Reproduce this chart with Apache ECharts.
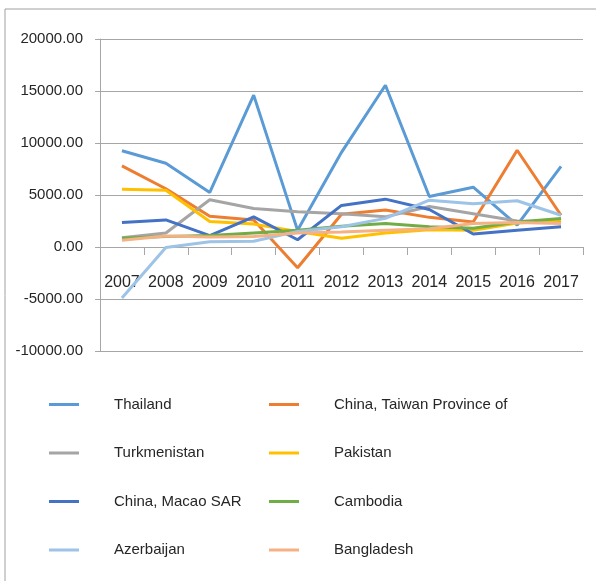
<!DOCTYPE html>
<html>
<head>
<meta charset="utf-8">
<script src="https://cdn.jsdelivr.net/npm/echarts@6/dist/echarts.min.js"></script>
<style>
  html, body { margin: 0; padding: 0; background: #fff; }
  #main { width: 596px; height: 581px; }
</style>
</head>
<body>
<div id="main"></div>
<script>
var years = ['2007', '2008', '2009', '2010', '2011', '2012', '2013', '2014', '2015', '2016', '2017'];

var thailand = [9250, 8050, 5250, 14600, 1600, 9100, 15550, 4850, 5750, 2100, 7750];
var taiwan = [7800, 5600, 2950, 2600, -2000, 3150, 3550, 2850, 2400, 9300, 3050];
var turkmenistan = [900, 1350, 4550, 3700, 3400, 3200, 2900, 3900, 3200, 2500, 2400];
var pakistan = [5550, 5450, 2450, 2200, 1500, 850, 1350, 1650, 1600, 2300, 2600];
var macao = [2350, 2600, 1100, 2900, 700, 4000, 4600, 3600, 1250, 1600, 1950];
var cambodia = [850, 1000, 1100, 1350, 1600, 2000, 2250, 1950, 1800, 2400, 2750];
var azerbaijan = [-4900, -50, 500, 550, 1500, 1950, 2750, 4500, 4150, 4450, 3050];
var bangladesh = [650, 1050, 950, 1000, 1350, 1450, 1600, 1750, 2250, 2350, 2250];

var names = ['Thailand', 'China, Taiwan Province of', 'Turkmenistan', 'Pakistan',
    'China, Macao SAR', 'Cambodia', 'Azerbaijan', 'Bangladesh'];
var values = [thailand, taiwan, turkmenistan, pakistan, macao, cambodia, azerbaijan, bangladesh];
var colors = ['#5B9BD5', '#ED7D31', '#A5A5A5', '#FFC000', '#4472C4', '#70AD47', '#9DC3E6', '#F4B183'];

var font = '"Liberation Sans", Arial, sans-serif';
var textColor = '#262626';
var axisGray = '#a6a6a6';

var chart = echarts.init(document.getElementById('main'));

// legend laid out as two columns, four rows
function legendCol(left, items) {
    return {
        orient: 'vertical',
        left: left,
        top: 397,
        padding: 0,
        itemWidth: 30,
        itemHeight: 3,
        itemGap: 33.5,
        icon: 'rect',
        data: items,
        textStyle: {
            fontFamily: font,
            fontSize: 15,
            color: textColor,
            padding: [0, 0, 0, 30]
        }
    };
}

var series = [];
for (var i = 0; i < names.length; i++) {
    series.push({
        name: names[i],
        type: 'line',
        data: values[i],
        symbol: 'none',
        lineStyle: { width: 3, color: colors[i] },
        itemStyle: { color: colors[i] }
    });
}

var option = {
    animation: false,
    graphic: [{
        type: 'rect',
        shape: { x: 5, y: 9, width: 700, height: 700 },
        style: { fill: 'none', stroke: '#a0a0a0', lineWidth: 1 }
    }],
    legend: [
        legendCol(49, [names[0], names[2], names[4], names[6]]),
        legendCol(269, [names[1], names[3], names[5], names[7]])
    ],
    grid: [
        { left: 100, top: 39, width: 483, height: 312 },
        // upper half only, so the year labels sit just under the zero line
        { left: 100, top: 39, width: 483, height: 208 }
    ],
    xAxis: [{
        type: 'category',
        gridIndex: 0,
        data: years,
        boundaryGap: true,
        axisLine: { onZero: true, lineStyle: { color: axisGray, width: 1 } },
        axisTick: { show: true, length: 8, lineStyle: { color: axisGray } },
        axisLabel: { show: false },
        splitLine: { show: false }
    }, {
        type: 'category',
        gridIndex: 1,
        data: years,
        boundaryGap: true,
        axisLine: { show: false },
        axisTick: { show: false },
        axisLabel: {
            interval: 0,
            margin: 28,
            fontFamily: font,
            fontSize: 16,
            color: textColor
        },
        splitLine: { show: false }
    }],
    yAxis: [{
        type: 'value',
        gridIndex: 0,
        min: -10000,
        max: 20000,
        interval: 5000,
        axisLine: { show: true, lineStyle: { color: axisGray, width: 1 } },
        axisTick: { show: true, length: 5, lineStyle: { color: axisGray } },
        axisLabel: {
            margin: 17,
            fontFamily: font,
            fontSize: 15,
            color: textColor,
            formatter: function (v) { return v.toFixed(2); }
        },
        splitLine: { show: true, lineStyle: { color: axisGray, width: 1 } }
    }, {
        type: 'value',
        gridIndex: 1,
        show: false,
        min: 0,
        max: 1
    }],
    series: series
};

chart.setOption(option);
</script>
</body>
</html>
